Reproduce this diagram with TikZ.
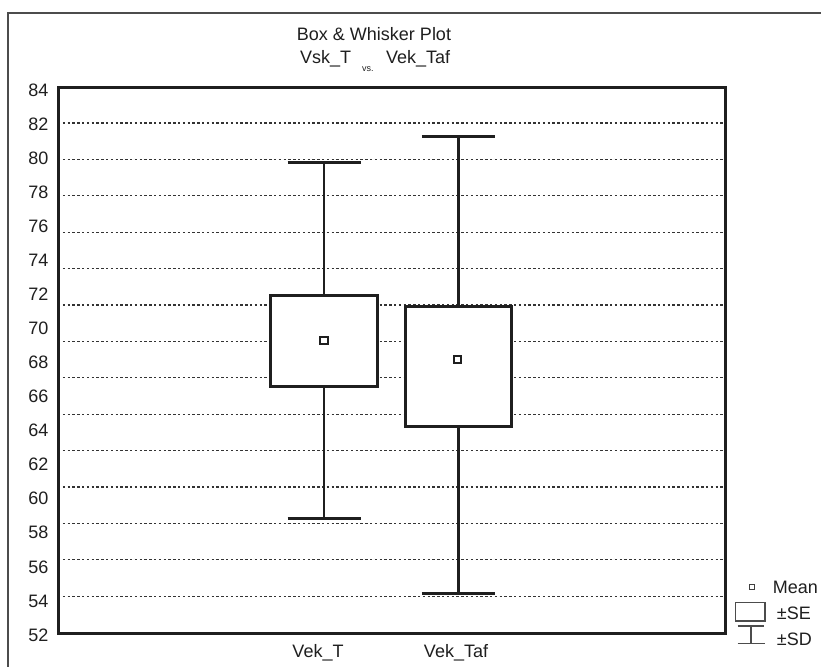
\documentclass[tikz,border=0pt]{standalone}
\usepackage{fontspec}
\setmainfont{Liberation Sans}
\begin{document}
\begin{tikzpicture}[x=1pt,y=-1pt,
  frameline/.style={draw=black!70,line width=1.4pt},
  plotframe/.style={draw=black!88,line width=3pt},
  grid/.style={draw=black!80,line width=1.2pt,dash pattern=on 2.4pt off 2.4pt},
  sebox/.style={draw=black!88,fill=white,line width=3pt,inner sep=0pt},
  meanmark/.style={draw=black!88,fill=white,line width=2pt,inner sep=0pt,minimum size=7.5pt},
  whisk/.style={draw=black!88,line width=2.6pt},
  capline/.style={draw=black!88,line width=3pt},
  lbl/.style={text=black!88,font=\fontsize{18}{20}\selectfont,inner sep=0pt},
  small/.style={text=black!88,font=\fontsize{9}{10}\selectfont,inner sep=0pt},
  leg/.style={draw=black!70,line width=1.3pt}
]
\useasboundingbox (0,0) rectangle (821,666);
\fill[white] (0,0) rectangle (821,666);
% outer frame
\draw[frameline] (8,670) -- (8,13) -- (825,13);
% title
\node[lbl,anchor=base] (title) at (374,40.5) {Box \& Whisker Plot};
\node[lbl,anchor=base west] (v1) at (300,64) {Vsk\_T};
\node[small,anchor=base west] (vs) at (362,72) {vs.};
\node[lbl,anchor=base west] (v2) at (386,64) {Vek\_Taf};
% gridlines
\foreach \i in {0,...,13}{
  \draw[grid] (58,123+36.4*\i) -- (725,123+36.4*\i);
}
% y labels
\foreach \v [count=\k from 0] in {84,82,...,52}{
  \node[lbl,anchor=east] (y\v) at (48.5,90+34.06*\k) {\v};
}
% whiskers
\coordinate (cap1t) at (324,162.7);
\coordinate (cap1b) at (324,518.7);
\coordinate (cap2t) at (458.3,136.7);
\coordinate (cap2b) at (458.3,593.3);
\draw[whisk] (cap1t) -- (cap1b);
\draw[whisk] (cap2t) -- (cap2b);
\draw[capline] ([xshift=-36.5pt]cap1t) -- ([xshift=36.5pt]cap1t);
\draw[capline] ([xshift=-36.5pt]cap1b) -- ([xshift=36.5pt]cap1b);
\draw[capline] ([xshift=-36.5pt]cap2t) -- ([xshift=36.5pt]cap2t);
\draw[capline] ([xshift=-36.5pt]cap2b) -- ([xshift=36.5pt]cap2b);
% boxes
\node[sebox,minimum width=107.3pt,minimum height=91pt] (box1) at (324.3,341.2) {};
\node[sebox,minimum width=105.6pt,minimum height=120pt] (box2) at (458.5,366) {};
\node[meanmark] (mean1) at (324,340.7) {};
\node[meanmark] (mean2) at (457.5,359.3) {};
% plot frame
\draw[plotframe] (58,88) rectangle (725,633);
% x labels
\node[lbl,anchor=base] (x1) at (318,657) {Vek\_T};
\node[lbl,anchor=base] (x2) at (456,657) {Vek\_Taf};
% legend
\node[draw=black!75,line width=1.2pt,fill=white,minimum size=5pt,inner sep=0pt] (lmean) at (751.7,587.3) {};
\node[lbl,anchor=base west] (tmean) at (772.7,593.3) {Mean};
\node[leg,minimum width=29.3pt,minimum height=18.3pt,inner sep=0pt] (lse) at (750.4,611.9) {};
\node[lbl,anchor=base west] (tse) at (776.7,619) {±SE};
\coordinate (lsdt) at (751,626);
\coordinate (lsdb) at (751,643.3);
\draw[leg] (lsdt) -- (lsdb);
\draw[leg] ([xshift=-13.3pt]lsdt) -- ([xshift=13.3pt]lsdt);
\draw[leg] ([xshift=-13.5pt]lsdb) -- ([xshift=13.5pt]lsdb);
\node[lbl,anchor=base west] (tsd) at (776.7,645.7) {±SD};
\end{tikzpicture}
\end{document}
